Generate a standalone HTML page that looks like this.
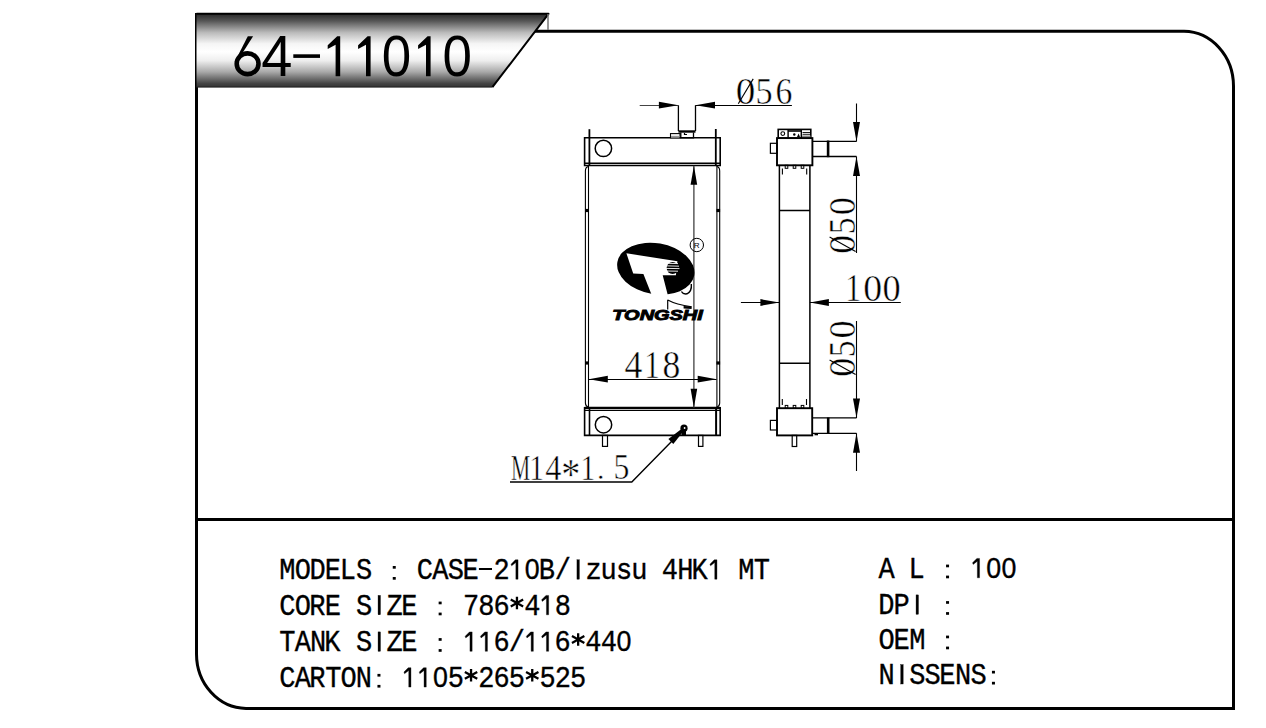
<!DOCTYPE html>
<html><head><meta charset="utf-8">
<style>
html,body{margin:0;padding:0;background:#fff;width:1266px;height:728px;overflow:hidden}
svg{display:block}
</style></head>
<body>
<svg width="1266" height="728" viewBox="0 0 1266 728">
<defs>
<linearGradient id="tabg" x1="0" y1="0" x2="0" y2="1">
<stop offset="0" stop-color="#262626"/>
<stop offset="0.1" stop-color="#555555"/>
<stop offset="0.26" stop-color="#bbbbbb"/>
<stop offset="0.41" stop-color="#f5f5f5"/>
<stop offset="0.52" stop-color="#ffffff"/>
<stop offset="0.64" stop-color="#eeeeee"/>
<stop offset="0.79" stop-color="#aaaaaa"/>
<stop offset="0.95" stop-color="#444444"/>
<stop offset="1" stop-color="#333333"/>
</linearGradient>
</defs>
<rect width="1266" height="728" fill="#fff"/>

<g fill="none" stroke="#000" stroke-width="3">
<path d="M196.5,13 L196.5,654 A50,54.5 0 0 0 246,708.4 L1233.5,708.4 L1233.5,86 A50,55 0 0 0 1184,31.3 L534,31.3"/>
<path d="M196.5,519.4 L1233.5,519.4"/>
</g>
<path d="M196.5,13.5 L549,13.5 L492.4,87.2 L196.5,87.2 Z" fill="url(#tabg)" stroke="none"/>
<path d="M196.5,13.8 L548.5,13.8 L492.4,87.2" fill="none" stroke="#000" stroke-width="2" stroke-linejoin="round"/>
<path d="M196.5,87 L492.4,87" fill="none" stroke="#222" stroke-width="1"/>
<path d="M548,14 L548,30" stroke="#777" stroke-width="1.5"/>
<g font-family="Liberation Sans" font-size="58" fill="#000">
<ellipse cx="247.6" cy="63.75" rx="10.9" ry="10.4" fill="none" stroke="#000" stroke-width="4.6"/>
<path d="M247.8,36.3 L253.1,36.3 L240.3,56.5 L234.4,62.5 Z"/>
<text transform="translate(261.22,76.30) scale(0.9649,1)">4</text>
<rect x="293.3" y="54.3" width="26.7" height="3.6"/>
<path d="M340.20,36.2 L340.20,76.3 L335.60,76.3 L335.60,44.7 L327.70,48.9 L327.70,45.3 L337.20,36.2 Z"/>
<path d="M370.60,36.2 L370.60,76.3 L366.00,76.3 L366.00,44.7 L358.10,48.9 L358.10,45.3 L367.60,36.2 Z"/>
<text transform="translate(381.73,76.30) scale(0.9125,1)">0</text>
<path d="M430.60,36.2 L430.60,76.3 L426.00,76.3 L426.00,44.7 L418.10,48.9 L418.10,45.3 L427.60,36.2 Z"/>
<text transform="translate(442.43,76.30) scale(0.9125,1)">0</text>
</g>
<g font-family="Liberation Mono" font-size="29.4" fill="#000" stroke="#000" stroke-width="0.35">
<text transform="translate(279.34,579.20) scale(0.92,1)">M</text>
<text transform="translate(294.64,579.20) scale(0.92,1)">O</text>
<text transform="translate(309.55,579.20) scale(0.92,1)">D</text>
<text transform="translate(324.87,579.20) scale(0.92,1)">E</text>
<text transform="translate(339.82,579.20) scale(0.92,1)">L</text>
<text transform="translate(355.98,579.20) scale(0.92,1)">S</text>
<rect x="392.75" y="566.00" width="3" height="2.7" stroke="none"/>
<rect x="392.75" y="577.00" width="3" height="2.7" stroke="none"/>
<text transform="translate(416.86,579.20) scale(0.92,1)">C</text>
<text transform="translate(432.34,579.20) scale(0.92,1)">A</text>
<text transform="translate(447.78,579.20) scale(0.92,1)">S</text>
<text transform="translate(462.57,579.20) scale(0.92,1)">E</text>
<rect x="478.90" y="568.00" width="13.1" height="2" stroke="none"/>
<text transform="translate(493.54,579.20) scale(0.92,1)">2</text>
<path d="M518.05,559.80 L518.05,579.20 L515.85,579.20 L515.85,562.60 L511.65,565.80 L511.05,564.20 L515.35,559.80 Z"/>
<text font-family="Liberation Sans" font-size="100" transform="translate(524.80,579.21) scale(0.2678,0.2994)" vector-effect="non-scaling-stroke">0</text>
<text transform="translate(538.87,579.20) scale(0.92,1)">B</text>
<text transform="translate(554.75,579.20) scale(0.92,1)">/</text>
<rect x="576.95" y="559.80" width="2.4" height="19.4"/>
<text transform="translate(585.43,579.20) scale(0.92,1)">z</text>
<text transform="translate(600.56,579.20) scale(0.92,1)">u</text>
<text transform="translate(615.95,579.20) scale(0.92,1)">s</text>
<text transform="translate(631.16,579.20) scale(0.92,1)">u</text>
<text transform="translate(661.84,579.20) scale(0.92,1)">4</text>
<text transform="translate(677.14,579.20) scale(0.92,1)">H</text>
<text transform="translate(691.38,579.20) scale(0.92,1)">K</text>
<path d="M716.95,559.80 L716.95,579.20 L714.75,579.20 L714.75,562.60 L710.55,565.80 L709.95,564.20 L714.25,559.80 Z"/>
<text transform="translate(738.34,579.20) scale(0.92,1)">M</text>
<text transform="translate(753.64,579.20) scale(0.92,1)">T</text>
<text transform="translate(279.16,614.80) scale(0.92,1)">C</text>
<text transform="translate(294.64,614.80) scale(0.92,1)">O</text>
<text transform="translate(309.21,614.80) scale(0.92,1)">R</text>
<text transform="translate(324.87,614.80) scale(0.92,1)">E</text>
<text transform="translate(355.98,614.80) scale(0.92,1)">S</text>
<rect x="378.05" y="595.40" width="2.4" height="19.4"/>
<text transform="translate(386.44,614.80) scale(0.92,1)">Z</text>
<text transform="translate(401.37,614.80) scale(0.92,1)">E</text>
<rect x="438.65" y="601.60" width="3" height="2.7" stroke="none"/>
<rect x="438.65" y="612.60" width="3" height="2.7" stroke="none"/>
<text transform="translate(462.95,614.80) scale(0.92,1)">7</text>
<text transform="translate(478.25,614.80) scale(0.92,1)">8</text>
<text transform="translate(493.42,614.80) scale(0.92,1)">6</text>
<path d="M516.95,596.80 L516.95,609.20 M510.75,599.60 L523.15,606.40 M510.75,606.40 L523.15,599.60" fill="none" stroke-width="2.3"/>
<text transform="translate(524.14,614.80) scale(0.92,1)">4</text>
<path d="M548.65,595.40 L548.65,614.80 L546.45,614.80 L546.45,598.20 L542.25,601.40 L541.65,599.80 L545.95,595.40 Z"/>
<text transform="translate(554.75,614.80) scale(0.92,1)">8</text>
<text transform="translate(279.34,651.30) scale(0.92,1)">T</text>
<text transform="translate(294.64,651.30) scale(0.92,1)">A</text>
<text transform="translate(309.94,651.30) scale(0.92,1)">N</text>
<text transform="translate(324.18,651.30) scale(0.92,1)">K</text>
<text transform="translate(355.98,651.30) scale(0.92,1)">S</text>
<rect x="378.05" y="631.90" width="2.4" height="19.4"/>
<text transform="translate(386.44,651.30) scale(0.92,1)">Z</text>
<text transform="translate(401.37,651.30) scale(0.92,1)">E</text>
<rect x="438.65" y="638.10" width="3" height="2.7" stroke="none"/>
<rect x="438.65" y="649.10" width="3" height="2.7" stroke="none"/>
<path d="M472.15,631.90 L472.15,651.30 L469.95,651.30 L469.95,634.70 L465.75,637.90 L465.15,636.30 L469.45,631.90 Z"/>
<path d="M487.45,631.90 L487.45,651.30 L485.25,651.30 L485.25,634.70 L481.05,637.90 L480.45,636.30 L484.75,631.90 Z"/>
<text transform="translate(493.42,651.30) scale(0.92,1)">6</text>
<text transform="translate(508.85,651.30) scale(0.92,1)">/</text>
<path d="M533.35,631.90 L533.35,651.30 L531.15,651.30 L531.15,634.70 L526.95,637.90 L526.35,636.30 L530.65,631.90 Z"/>
<path d="M548.65,631.90 L548.65,651.30 L546.45,651.30 L546.45,634.70 L542.25,637.90 L541.65,636.30 L545.95,631.90 Z"/>
<text transform="translate(554.62,651.30) scale(0.92,1)">6</text>
<path d="M578.15,633.30 L578.15,645.70 M571.95,636.10 L584.35,642.90 M571.95,642.90 L584.35,636.10" fill="none" stroke-width="2.3"/>
<text transform="translate(585.34,651.30) scale(0.92,1)">4</text>
<text transform="translate(600.64,651.30) scale(0.92,1)">4</text>
<text font-family="Liberation Sans" font-size="100" transform="translate(616.60,651.31) scale(0.2678,0.2994)" vector-effect="non-scaling-stroke">0</text>
<text transform="translate(279.16,687.10) scale(0.92,1)">C</text>
<text transform="translate(294.64,687.10) scale(0.92,1)">A</text>
<text transform="translate(309.21,687.10) scale(0.92,1)">R</text>
<text transform="translate(325.24,687.10) scale(0.92,1)">T</text>
<text transform="translate(340.54,687.10) scale(0.92,1)">O</text>
<text transform="translate(355.84,687.10) scale(0.92,1)">N</text>
<rect x="377.45" y="673.90" width="3" height="2.7" stroke="none"/>
<rect x="377.45" y="684.90" width="3" height="2.7" stroke="none"/>
<path d="M410.95,667.70 L410.95,687.10 L408.75,687.10 L408.75,670.50 L404.55,673.70 L403.95,672.10 L408.25,667.70 Z"/>
<path d="M426.25,667.70 L426.25,687.10 L424.05,687.10 L424.05,670.50 L419.85,673.70 L419.25,672.10 L423.55,667.70 Z"/>
<text font-family="Liberation Sans" font-size="100" transform="translate(433.00,687.11) scale(0.2678,0.2994)" vector-effect="non-scaling-stroke">0</text>
<text transform="translate(447.65,687.10) scale(0.92,1)">5</text>
<path d="M471.05,669.10 L471.05,681.50 M464.85,671.90 L477.25,678.70 M464.85,678.70 L477.25,671.90" fill="none" stroke-width="2.3"/>
<text transform="translate(478.24,687.10) scale(0.92,1)">2</text>
<text transform="translate(493.42,687.10) scale(0.92,1)">6</text>
<text transform="translate(508.85,687.10) scale(0.92,1)">5</text>
<path d="M532.25,669.10 L532.25,681.50 M526.05,671.90 L538.45,678.70 M526.05,678.70 L538.45,671.90" fill="none" stroke-width="2.3"/>
<text transform="translate(539.45,687.10) scale(0.92,1)">5</text>
<text transform="translate(554.74,687.10) scale(0.92,1)">2</text>
<text transform="translate(570.05,687.10) scale(0.92,1)">5</text>
<text transform="translate(878.54,577.80) scale(0.92,1)">A</text>
<text transform="translate(908.42,577.80) scale(0.92,1)">L</text>
<rect x="946.05" y="564.60" width="3" height="2.7" stroke="none"/>
<rect x="946.05" y="575.60" width="3" height="2.7" stroke="none"/>
<path d="M979.55,558.40 L979.55,577.80 L977.35,577.80 L977.35,561.20 L973.15,564.40 L972.55,562.80 L976.85,558.40 Z"/>
<text font-family="Liberation Sans" font-size="100" transform="translate(986.30,577.81) scale(0.2678,0.2994)" vector-effect="non-scaling-stroke">0</text>
<text font-family="Liberation Sans" font-size="100" transform="translate(1001.60,577.81) scale(0.2678,0.2994)" vector-effect="non-scaling-stroke">0</text>
<text transform="translate(878.15,614.30) scale(0.92,1)">D</text>
<text transform="translate(893.49,614.30) scale(0.92,1)">P</text>
<rect x="916.05" y="594.90" width="2.4" height="19.4"/>
<rect x="946.05" y="601.10" width="3" height="2.7" stroke="none"/>
<rect x="946.05" y="612.10" width="3" height="2.7" stroke="none"/>
<text transform="translate(878.54,648.80) scale(0.92,1)">O</text>
<text transform="translate(893.47,648.80) scale(0.92,1)">E</text>
<text transform="translate(909.14,648.80) scale(0.92,1)">M</text>
<rect x="946.05" y="635.60" width="3" height="2.7" stroke="none"/>
<rect x="946.05" y="646.60" width="3" height="2.7" stroke="none"/>
<text transform="translate(878.54,684.00) scale(0.92,1)">N</text>
<rect x="900.75" y="664.60" width="2.4" height="19.4"/>
<text transform="translate(909.28,684.00) scale(0.92,1)">S</text>
<text transform="translate(924.58,684.00) scale(0.92,1)">S</text>
<text transform="translate(939.37,684.00) scale(0.92,1)">E</text>
<text transform="translate(955.04,684.00) scale(0.92,1)">N</text>
<text transform="translate(970.48,684.00) scale(0.92,1)">S</text>
<rect x="991.95" y="670.80" width="3" height="2.7" stroke="none"/>
<rect x="991.95" y="681.80" width="3" height="2.7" stroke="none"/>
</g>
<g fill="none" stroke="#000" stroke-linecap="butt">
<path d="M585.4,171 Q585.4,167 588.4,166.5 M585.4,171 L585.4,403 Q585.4,406 588.4,407.5" stroke-width="1.1"/>
<path d="M588.5,166 L588.5,408" stroke-width="1.1"/>
<path d="M719.7,171 Q719.7,167 716.8,166.5 M719.7,171 L719.7,403 Q719.7,406 716.8,407.5" stroke-width="1.1"/>
<path d="M716.9,166 L716.9,408" stroke-width="1.1"/>
<rect x="585.2" y="208.9" width="3.6" height="3.2" fill="#000" stroke="none"/>
<rect x="716.5" y="208.9" width="3.6" height="3.2" fill="#000" stroke="none"/>
<rect x="585.2" y="361.4" width="3.6" height="3.2" fill="#000" stroke="none"/>
<rect x="716.5" y="361.4" width="3.6" height="3.2" fill="#000" stroke="none"/>
<path d="M584.6,137.8 L720.2,137.8 L720.2,165.5 L584.6,165.5 Z" stroke-width="1.6"/>
<path d="M584.6,163.2 L720.2,163.2" stroke-width="1.4"/>
<path d="M589.4,129.2 L589.4,165.5" stroke-width="1.8"/>
<path d="M715.8,129.0 L715.8,165.5" stroke-width="1.8"/>
<circle cx="603.4" cy="148.4" r="8.2" stroke-width="1.5"/>
<path d="M678.4,105.2 L678.4,131 M695.5,105.2 L695.5,131" stroke-width="1.3"/>
<path d="M678.4,131.5 L695.5,131.5" stroke-width="2.4"/>
<path d="M680.8,132.6 L680.8,137.9 L693.5,137.9 L693.5,132.6" stroke-width="1.3"/>
<path d="M684.5,133 L684.5,134.5 L687,134.5" stroke-width="1.2"/>
<rect x="670.5" y="133.6" width="9.5" height="4.2" stroke-width="1.1"/>
<rect x="671" y="135.8" width="8.5" height="2" fill="#999" stroke="none"/>
<path d="M584.6,407.8 L720.2,407.8 L720.2,435.4 L584.6,435.4 Z" stroke-width="1.6"/>
<path d="M584.6,407.8 L720.2,407.8" stroke-width="2.2"/>
<path d="M584.6,410.3 L720.2,410.3" stroke-width="1.3"/>
<path d="M589.5,407.8 L589.5,435.4" stroke-width="1.6"/>
<path d="M716.1,407.8 L716.1,435.4" stroke-width="2.0"/>
<circle cx="603.5" cy="424.7" r="8.2" stroke-width="1.5"/>
<rect x="602.5" y="435.4" width="5" height="11" stroke-width="1.2"/>
<rect x="698.5" y="435.4" width="4.4" height="11" stroke-width="1.2"/>
<circle cx="684.0" cy="428.2" r="3.6" fill="#000" stroke="none"/>
<rect x="681.6" y="430.5" width="4.4" height="5" fill="#000" stroke="none"/>
<circle cx="684.6" cy="428" r="0.9" fill="#fff" stroke="none"/>
<path d="M693.9,165.7 L693.9,407.8" stroke="#333" stroke-width="1.2"/>
<path d="M693.90,165.70 L697.20,184.70 L690.60,184.70 Z" fill="#000" stroke="none"/>
<path d="M693.90,407.80 L690.60,388.80 L697.20,388.80 Z" fill="#000" stroke="none"/>
<path d="M589,379.5 L716.5,379.5" stroke-width="1.1"/>
<path d="M588.80,379.20 L607.80,375.80 L607.80,382.60 Z" fill="#000" stroke="none"/>
<path d="M716.70,379.20 L697.70,382.60 L697.70,375.80 Z" fill="#000" stroke="none"/>
<path d="M639.7,105.5 L678.4,105.5" stroke="#444" stroke-width="1"/>
<path d="M695.5,105.5 L791.9,105.5" stroke-width="1.1"/>
<path d="M678.40,105.20 L658.90,108.60 L658.90,101.80 Z" fill="#000" stroke="none"/>
<path d="M695.50,105.20 L715.00,101.80 L715.00,108.60 Z" fill="#000" stroke="none"/>
<path d="M510,482 L631.8,482 L672,441" stroke-width="1.4"/>
<path d="M683.85,430.87 L673.29,444.09 L668.38,439.10 L681.75,428.73 Z" fill="#000" stroke="none"/>
<path d="M779.4,165.3 L779.4,408.2 M809.9,165.3 L809.9,408.2" stroke-width="1.5"/>
<path d="M779.4,210.5 L809.9,210.5 M779.4,363.3 L809.9,363.3" stroke-width="1.5"/>
<rect x="778.2" y="129.4" width="32.6" height="8.7" stroke-width="1.6"/>
<path d="M788.1,129.4 L788.1,138 M801.3,129.4 L801.3,138" stroke-width="1.4"/>
<circle cx="782.8" cy="133.6" r="1.9" stroke-width="1.1"/>
<path d="M788.1,131 L801.3,131" stroke-width="1.6"/>
<circle cx="794.3" cy="134.5" r="1.2" fill="#000" stroke="none"/>
<path d="M797,137 L798.6,133.5 L800,137 Z" fill="#000" stroke="none"/>
<path d="M802.5,132.5 L810,132.5 M802.5,134.3 L810,134.3" stroke-width="0.9"/>
<rect x="802" y="135.5" width="8.5" height="2.3" fill="#888" stroke="none"/>
<rect x="777" y="138.1" width="35.4" height="27.2" stroke-width="1.9"/>
<rect x="785.2" y="165.3" width="2.6" height="3" stroke-width="1"/>
<rect x="793.2" y="165.3" width="2.6" height="3" stroke-width="1"/>
<rect x="801.2" y="165.3" width="2.6" height="3" stroke-width="1"/>
<path d="M782.4,168.5 L782.4,174.5 M806.7,168.5 L806.7,174.5" stroke-width="1.1"/>
<rect x="770.4" y="143.3" width="6.6" height="10" stroke-width="1.2"/>
<path d="M812.4,141.4 L856.5,141.4 M812.4,156.5 L856.5,156.5" stroke-width="1.3"/>
<path d="M828.1,140.5 L828.1,157.2" stroke-width="2.6"/>
<rect x="777" y="408.2" width="35.2" height="27.2" stroke-width="1.9"/>
<rect x="785.2" y="405.4" width="2.6" height="2.8" stroke-width="1"/>
<rect x="793.2" y="405.4" width="2.6" height="2.8" stroke-width="1"/>
<rect x="801.2" y="405.4" width="2.6" height="2.8" stroke-width="1"/>
<path d="M782.3,399 L782.3,405 M806.5,399 L806.5,405" stroke-width="1.1"/>
<rect x="770.4" y="420.4" width="6.6" height="9.6" stroke-width="1.2"/>
<rect x="792.2" y="435.4" width="4.5" height="11.1" stroke-width="1.2"/>
<path d="M812.2,417.9 L856.5,417.9 M812.2,433.3 L856.5,433.3" stroke-width="1.3"/>
<path d="M828.2,417.5 L828.2,434" stroke-width="2.6"/>
<rect x="814.5" y="433.3" width="3.5" height="2" fill="#000" stroke="none"/>
<path d="M856.5,103.5 L856.5,141.4 M856.5,156.5 L856.5,253" stroke-width="1.1"/>
<path d="M856.50,141.40 L853.00,121.90 L860.00,121.90 Z" fill="#000" stroke="none"/>
<path d="M856.50,156.50 L860.00,176.00 L853.00,176.00 Z" fill="#000" stroke="none"/>
<path d="M856.5,321 L856.5,417.9 M856.5,433.3 L856.5,471" stroke-width="1.1"/>
<path d="M856.50,417.90 L853.00,398.40 L860.00,398.40 Z" fill="#000" stroke="none"/>
<path d="M856.50,433.30 L860.00,452.80 L853.00,452.80 Z" fill="#000" stroke="none"/>
<path d="M740.9,302.5 L779.4,302.5 M809.9,302.5 L900.8,302.5" stroke-width="1.1"/>
<path d="M779.40,302.50 L760.40,305.90 L760.40,299.10 Z" fill="#000" stroke="none"/>
<path d="M809.90,302.50 L828.90,299.10 L828.90,305.90 Z" fill="#000" stroke="none"/>
</g>
<g>
<ellipse cx="655.8" cy="268.7" rx="39" ry="25.5" transform="rotate(10 655.8 268.7)" fill="#000"/>
<path d="M626.4,253.3 L677.4,261.2 L675.9,275.2 L662.7,275.2 L668.3,297 L652.5,297 L643.4,274.1 L633.2,273.5 Z" fill="#fff"/>
<circle cx="672.6" cy="268" r="6.0" fill="#000"/>
<path d="M664,263.2 L678,263.6 M665,265.8 L679,266.2 M665.5,268.4 L679.5,268.6 M666,271 L678,271.2" stroke="#fff" stroke-width="0.9" fill="none"/>
<circle cx="696.8" cy="245" r="6.7" fill="none" stroke="#000" stroke-width="1"/>
<g font-family="Liberation Sans" fill="#000"><text font-family="Liberation Sans" font-size="100" transform="translate(693.64,247.80) scale(0.0808,0.0799)" vector-effect="non-scaling-stroke">R</text></g>
<path d="M691.3,284 Q692,291.5 687,293.8 Q683,294.5 681.4,291.5" fill="none" stroke="#000" stroke-width="1.4"/>
<path d="M667.7,299.7 L667.7,309.6 M667.7,300 Q676,304.5 691.6,306.9" fill="none" stroke="#000" stroke-width="1.2"/>
<path d="M683.6,306 L691.6,306.5 L691.6,309 L683.6,308.5 Z" fill="#000"/>
<text x="612.3" y="320.1" font-family="Liberation Sans" font-weight="bold" font-style="italic" font-size="14.4" textLength="90.5" lengthAdjust="spacingAndGlyphs" fill="#000" stroke="#000" stroke-width="0.9">TONGSHI</text>
</g>
<g font-family="Liberation Serif" fill="#000" stroke="#fff" stroke-width="0.45" vector-effect="non-scaling-stroke">
<text font-family="Liberation Serif" font-size="100" transform="translate(735.71,103.63) scale(0.3917,0.3764)" vector-effect="non-scaling-stroke">0</text>
<path d="M738.3,103.8 L753.2,78.9" stroke="#000" stroke-width="1.1"/>
<text font-family="Liberation Serif" font-size="100" transform="translate(755.41,103.63) scale(0.3426,0.3777)" vector-effect="non-scaling-stroke">5</text>
<text font-family="Liberation Serif" font-size="100" transform="translate(775.55,103.62) scale(0.3370,0.3855)" vector-effect="non-scaling-stroke">6</text>
<text font-family="Liberation Serif" font-size="100" transform="translate(624.40,377.90) scale(0.3571,0.3920)" vector-effect="non-scaling-stroke">4</text>
<text font-family="Liberation Serif" font-size="100" transform="translate(644.25,377.90) scale(0.3125,0.3908)" vector-effect="non-scaling-stroke">1</text>
<text font-family="Liberation Serif" font-size="100" transform="translate(662.54,377.82) scale(0.3563,0.3912)" vector-effect="non-scaling-stroke">8</text>
<text font-family="Liberation Serif" font-size="100" transform="translate(845.23,301.20) scale(0.3153,0.3938)" vector-effect="non-scaling-stroke">1</text>
<text font-family="Liberation Serif" font-size="100" transform="translate(863.16,300.82) scale(0.3775,0.3897)" vector-effect="non-scaling-stroke">0</text>
<text font-family="Liberation Serif" font-size="100" transform="translate(882.62,300.82) scale(0.3634,0.3897)" vector-effect="non-scaling-stroke">0</text>
<text font-family="Liberation Serif" font-size="100" transform="translate(511.08,479.80) scale(0.2154,0.3528)" vector-effect="non-scaling-stroke">M</text>
<text font-family="Liberation Serif" font-size="100" transform="translate(529.13,479.80) scale(0.2926,0.3499)" vector-effect="non-scaling-stroke">1</text>
<text font-family="Liberation Serif" font-size="100" transform="translate(545.37,479.80) scale(0.3227,0.3510)" vector-effect="non-scaling-stroke">4</text>
<text font-family="Liberation Serif" font-size="100" transform="translate(561.14,489.08) scale(0.3818,0.4472)" vector-effect="non-scaling-stroke">*</text>
<text font-family="Liberation Serif" font-size="100" transform="translate(580.43,479.80) scale(0.2926,0.3499)" vector-effect="non-scaling-stroke">1</text>
<text font-family="Liberation Serif" font-size="100" transform="translate(597.05,479.37) scale(0.2962,0.3047)" vector-effect="non-scaling-stroke">.</text>
<text font-family="Liberation Serif" font-size="100" transform="translate(613.55,479.46) scale(0.3178,0.3476)" vector-effect="non-scaling-stroke">5</text>
</g>
<g font-family="Liberation Serif" fill="#000" stroke="#fff" stroke-width="0.45" transform="translate(856,260) rotate(-90)">
<text font-family="Liberation Serif" font-size="100" transform="translate(6.04,-0.78) scale(0.3846,0.3853)" vector-effect="non-scaling-stroke">0</text>
<text font-family="Liberation Serif" font-size="100" transform="translate(25.75,-1.37) scale(0.3351,0.3822)" vector-effect="non-scaling-stroke">5</text>
<text font-family="Liberation Serif" font-size="100" transform="translate(44.63,-0.78) scale(0.3610,0.3853)" vector-effect="non-scaling-stroke">0</text>
</g>
<path d="M829.6,237.1 L855.6,251.5" stroke="#000" stroke-width="1.1"/>
<g font-family="Liberation Serif" fill="#000" stroke="#fff" stroke-width="0.45" transform="translate(856,380) rotate(-90)">
<text font-family="Liberation Serif" font-size="100" transform="translate(3.03,-0.78) scale(0.3869,0.3853)" vector-effect="non-scaling-stroke">0</text>
<text font-family="Liberation Serif" font-size="100" transform="translate(22.75,-1.37) scale(0.3351,0.3822)" vector-effect="non-scaling-stroke">5</text>
<text font-family="Liberation Serif" font-size="100" transform="translate(41.62,-0.78) scale(0.3634,0.3853)" vector-effect="non-scaling-stroke">0</text>
</g>
<path d="M829.6,360.0 L855.6,374.5" stroke="#000" stroke-width="1.1"/>
</svg>
</body></html>
